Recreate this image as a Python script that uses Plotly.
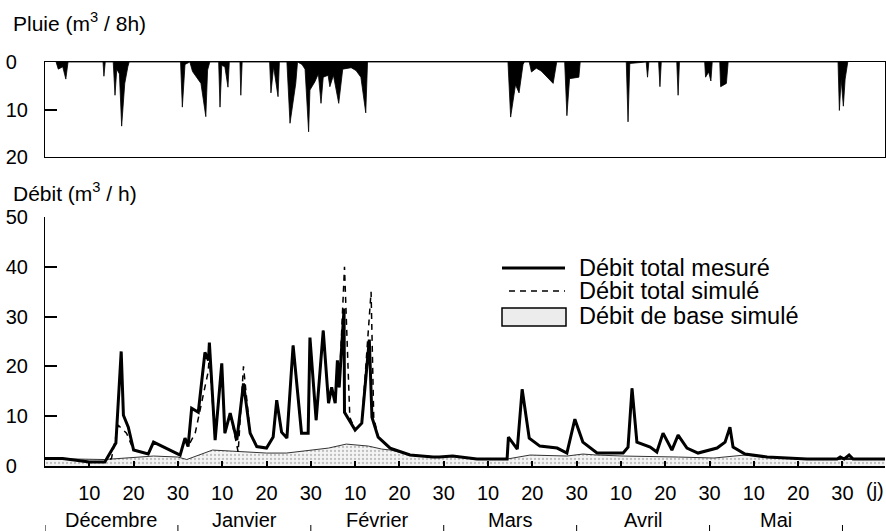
import plotly.graph_objects as go

# ---------------- data (x = day counted from 1 December, 30-day months) ----------------
rain_day = [2.5, 3.0, 4.0, 4.7, 5.2,
            13.1, 13.3, 13.6,
            15.4, 15.8, 16.2, 16.8, 17.3, 18.0, 18.7, 19.0,
            30.6, 31.0, 31.6,
            32.7, 33.3, 34.4, 35.2, 36.3, 36.7, 37.2,
            39.2, 39.5, 39.9, 40.6, 41.3, 41.6,
            44.0, 44.2, 44.5,
            50.7, 51.0, 51.6, 52.6, 52.9,
            54.6, 55.3, 56.6, 57.0,
            58.0, 58.7, 59.5, 59.8, 60.9, 61.7, 62.3, 62.8, 63.9, 64.3, 65.1, 66.3, 67.2, 69.1, 70.2, 71.3, 72.4, 72.8,
            104.5, 105.1, 106.2, 107.0, 107.9, 108.2,
            109.3, 109.8, 110.9, 112.0, 114.7, 115.5,
            117.3, 117.8, 118.4, 120.5, 120.8,
            131.2, 131.6, 132.0,
            135.7, 136.0, 136.3,
            138.5, 138.8, 139.1,
            142.6, 142.9, 143.2,
            148.9, 149.1, 149.8, 150.3, 150.6,
            152.3, 152.5, 153.8, 154.2,
            179.0, 179.3, 179.7, 180.2, 180.6, 181.2]
rain_val = [0, 1.5, 1.0, 3.6, 0,
            0, 3.0, 0,
            0, 7.0, 1.5, 2.5, 13.5, 4.5, 1.0, 0,
            0, 9.5, 0.5,
            0, 2.0, 3.4, 4.5, 11.5, 1.7, 0,
            0, 9.5, 0.7, 1.0, 5.3, 0,
            0, 7.0, 0,
            0, 6.5, 1.0, 7.3, 0,
            0, 12.9, 4.5, 0,
            0.5, 1.5, 14.7, 5.9, 4.2, 2.5, 8.7, 3.2, 2.8, 5.2, 2.8, 8.7, 1.5, 1.2, 1.8, 3.2, 10.7, 0,
            0, 11.6, 4.8, 6.5, 0.5, 0,
            0, 2.1, 1.3, 1.9, 4.5, 0,
            0, 11.3, 3.5, 3.2, 0,
            0, 12.6, 0.3,
            0, 3.2, 0,
            0, 5.2, 0,
            0, 7.0, 0,
            0, 3.2, 2.1, 4.0, 0,
            0, 5.2, 4.5, 0,
            0, 10.2, 3.6, 9.3, 3.6, 0]

mes_day = [0, 4, 10, 13.5, 16, 17.2, 17.7, 18.8, 20, 23.3, 24.5, 30.5, 31.6, 32.3, 33.1, 34.6,
           36.1, 36.9, 37.1, 38.4, 39.9, 40.6, 41.8, 43.3, 44.8, 46.3, 47.8, 50, 51.5, 52.3,
           53.4, 54.6, 56, 57.9, 59.4, 59.8, 61.2, 62.8, 64, 64.7, 65.5, 66, 66.4, 67.5, 67.6,
           70, 71.5, 73.2, 73.8, 75.2, 77.9, 82.4, 87.6, 89, 92, 97.5, 104.3, 104.6, 106.6,
           107.7, 109.3, 111.7, 115.6, 117.8, 119.6, 121.4, 124.6, 130.5, 131.6, 132.5, 133.6,
           136.6, 138.1, 139.5, 141.5, 142.9, 144.9, 147.4, 151.7, 153.5, 154.6, 155.3, 158,
           163, 167.5, 172, 178.8, 179.5, 180.4, 181.5, 182.4, 189.6]
mes_q = [1.5, 1.5, 0.8, 0.8, 4.6, 23.0, 10.2, 7.8, 3.2, 2.4, 4.8, 2.2, 5.6, 3.9, 11.6, 10.8,
         22.8, 21.2, 24.8, 5.2, 20.6, 6.6, 10.6, 5.2, 16.6, 6.6, 3.9, 3.6, 5.8, 13.2,
         6.8, 5.6, 24.2, 6.6, 6.6, 25.8, 9.2, 27.2, 12.6, 15.8, 12.6, 21.2, 15.8, 31.6, 10.8,
         7.2, 8.6, 25.4, 9.8, 5.8, 3.6, 2.2, 1.8, 1.8, 2.0, 1.4, 1.4, 5.8, 3.4,
         15.4, 5.6, 4.0, 3.6, 2.6, 9.4, 4.8, 2.6, 2.6, 3.8, 15.6, 4.8,
         3.8, 2.8, 6.6, 3.2, 6.2, 3.6, 2.6, 3.6, 4.8, 7.8, 3.8, 2.4,
         1.8, 1.6, 1.4, 1.4, 1.8, 1.4, 2.2, 1.4, 1.4]

sim_day = [0, 4, 10, 13.5, 15, 16.5, 18.4, 20, 23.3, 24.5, 30.5, 31.6, 32.3, 33.9, 36.8, 37.1,
           38.4, 39.9, 40.6, 41.8, 43.6, 44.8, 46.3, 47.8, 50, 51.5, 52.3, 53.4, 54.6, 56,
           57.9, 59.4, 59.8, 61.2, 62.8, 64, 64.7, 65.5, 66, 66.4, 67.6, 68.8, 70, 71.5, 73.6,
           74.2, 75.2, 77.9, 82.4, 87.6, 89, 92, 97.5, 104.3, 104.6, 106.6, 107.7, 109.3, 111.7,
           115.6, 117.8, 119.6, 121.4, 124.6, 130.5, 131.6, 132.5, 133.6, 136.6, 138.1, 139.5,
           141.5, 142.9, 144.9, 147.4, 151.7, 153.5, 154.6, 155.3, 158, 163, 167.5, 172, 189.6]
sim_q = [1.5, 1.5, 0.8, 0.8, 1.5, 8.2, 6.6, 3.2, 2.4, 4.8, 2.2, 5.6, 3.9, 6.6, 18.8, 22.0,
         5.2, 20.6, 6.6, 10.6, 2.8, 20.0, 6.6, 3.9, 3.6, 5.8, 13.2, 6.8, 5.6, 24.2,
         6.6, 6.6, 25.8, 9.2, 27.2, 12.6, 15.8, 12.6, 21.2, 15.8, 40.0, 9.8, 7.2, 8.6, 35.0,
         9.8, 5.8, 3.6, 2.2, 1.8, 1.8, 2.0, 1.4, 1.4, 5.8, 3.4, 15.4, 5.6, 4.0,
         3.6, 2.6, 9.4, 4.8, 2.6, 2.6, 3.8, 15.6, 4.8, 3.8, 2.8, 6.6,
         3.2, 6.2, 3.6, 2.6, 3.6, 4.8, 7.8, 3.8, 2.4, 1.8, 1.6, 1.4, 1.4]

base_day = [0, 13.5, 24.5, 30, 32, 37.8, 50, 54.5, 64, 68, 73, 76, 78, 82.4, 87.6, 89, 92, 97.5,
            104.3, 109.5, 117.8, 121.4, 124.6, 130.5, 143, 151, 158, 163, 167.5, 172, 189.6]
base_q = [1.5, 1.3, 2.0, 1.8, 1.3, 3.2, 2.6, 2.6, 3.6, 4.4, 4.0, 3.4, 3.2, 2.2, 1.8, 1.8, 2.0, 1.4,
          1.4, 2.2, 2.0, 2.4, 2.2, 2.0, 1.8, 1.6, 2.2, 1.8, 1.6, 1.4, 1.4]

tick_days = [10, 20, 30, 40, 50, 60, 70, 80, 90, 100, 110, 120, 130, 140, 150, 160, 170, 180]
tick_text = ["10", "20", "30"] * 6
months = ["Décembre", "Janvier", "Février", "Mars", "Avril", "Mai"]
legend_names = ["Débit total mesuré", "Débit total simulé", "Débit de base simulé"]
month_len = 30
x_end = 189.6

FONT = "Arial, Liberation Sans, sans-serif"

# plot-area geometry (pixels) used to convert layout decorations to paper coordinates
L, R, T, B = 45, 1, 62, 65
W, H = 886, 531
PW, PH = W - L - R, H - T - B


def px_x(px):
    return (px - L) / PW


def px_y(py):
    return (H - B - py) / PH


fig = go.Figure()

fig.add_trace(go.Scatter(x=rain_day, y=rain_val, xaxis="x2", yaxis="y2", mode="lines",
                         fill="tozeroy", fillcolor="black",
                         line=dict(color="black", width=0.8), showlegend=False,
                         hoverinfo="skip"))

fig.add_trace(go.Scatter(x=base_day, y=base_q, mode="lines", name=legend_names[2],
                         fill="tozeroy", fillcolor="#eeeeee",
                         fillpattern=dict(shape=".", fgcolor="#8a8a8a", bgcolor="#f4f4f4",
                                          size=4, solidity=0.25),
                         line=dict(color="#333", width=1), showlegend=False))

fig.add_trace(go.Scatter(x=sim_day, y=sim_q, mode="lines", name=legend_names[1],
                         line=dict(color="black", width=1.5, dash="6px,5px"), showlegend=False))

fig.add_trace(go.Scatter(x=mes_day, y=mes_q, mode="lines", name=legend_names[0],
                         line=dict(color="black", width=3), showlegend=False))

ax_common = dict(showgrid=False, zeroline=False, linecolor="black",
                 tickfont=dict(family=FONT, size=20, color="black"), tickcolor="black")

fig.update_layout(
    width=W, height=H,
    margin=dict(l=L, r=R, t=T, b=B),
    paper_bgcolor="white", plot_bgcolor="white",
    font=dict(family=FONT, size=20, color="black"),
    showlegend=False,
    xaxis=dict(domain=[0, 1], range=[0, x_end], anchor="y",
               tickvals=tick_days, ticktext=tick_text, ticks="inside", ticklen=5, tickwidth=1.5,
               showline=True, linewidth=2, ticklabelstandoff=8, **ax_common),
    yaxis=dict(domain=[0, px_y(217)], range=[0, 50], tickvals=[0, 10, 20, 30, 40, 50],
               ticktext=["0\u2007", "10", "20", "30", "40", "50"],
               ticks="inside", ticklen=12, tickwidth=1.5, showline=True, linewidth=1.2,
               ticklabelstandoff=12, **ax_common),
    xaxis2=dict(domain=[0, 1], range=[0, x_end], anchor="y2", matches="x",
                showticklabels=False, ticks="", showline=True, linewidth=1.2, mirror=True,
                **ax_common),
    yaxis2=dict(domain=[px_y(157), 1], range=[20, 0], tickvals=[0, 10, 20],
                ticktext=["0\u2007", "10", "20"],
                ticks="inside", ticklen=12, tickwidth=1.5, showline=True, linewidth=1.2,
                mirror=True, ticklabelstandoff=12, **ax_common),
)

annotations = [
    dict(text="Pluie (m<sup>3</sup> / 8h)", x=px_x(11), xref="paper", xanchor="left",
         y=px_y(22), yref="paper", yanchor="middle", showarrow=False,
         font=dict(family=FONT, size=21)),
    dict(text="Débit (m<sup>3</sup> / h)", x=px_x(11), xref="paper", xanchor="left",
         y=px_y(192), yref="paper", yanchor="middle", showarrow=False,
         font=dict(family=FONT, size=21)),
    dict(text="(j)", x=1, xref="paper", y=px_y(490), yref="paper", xshift=1,
         xanchor="right", yanchor="middle", showarrow=False, font=dict(family=FONT, size=20)),
]
for i, m in enumerate(months):
    annotations.append(dict(text=m, x=month_len * i + month_len / 2, xref="x",
                            y=px_y(520), yref="paper", xanchor="center",
                            yanchor="middle", showarrow=False,
                            font=dict(family=FONT, size=20)))

# custom legend (keys drawn as layout shapes, labels as annotations)
leg_y = [268, 291, 316]
for name, yy in zip(legend_names, leg_y):
    annotations.append(dict(text=name, x=px_x(577), xref="paper", xanchor="left",
                            y=px_y(yy), yref="paper", yanchor="middle", showarrow=False,
                            font=dict(family=FONT, size=23.5)))
fig.update_layout(annotations=annotations)

shapes = []
for i in range(len(months) + 1):
    shapes.append(dict(type="line", xref="x", yref="paper", x0=month_len * i, x1=month_len * i,
                       y0=px_y(525), y1=px_y(531), line=dict(color="black", width=1)))
shapes.append(dict(type="line", xref="paper", yref="paper", x0=px_x(502), x1=px_x(565),
                   y0=px_y(leg_y[0]), y1=px_y(leg_y[0]), line=dict(color="black", width=3)))
shapes.append(dict(type="line", xref="paper", yref="paper", x0=px_x(509), x1=px_x(565),
                   y0=px_y(leg_y[1]), y1=px_y(leg_y[1]),
                   line=dict(color="black", width=1.5, dash="6px,5px")))
shapes.append(dict(type="rect", xref="paper", yref="paper", x0=px_x(502), x1=px_x(566),
                   y0=px_y(326), y1=px_y(308), fillcolor="#ececec",
                   line=dict(color="black", width=1.5)))
fig.update_layout(shapes=shapes)

fig.write_html("out.html", config={"displayModeBar": False},
               post_script="document.body.style.margin='0px';")
